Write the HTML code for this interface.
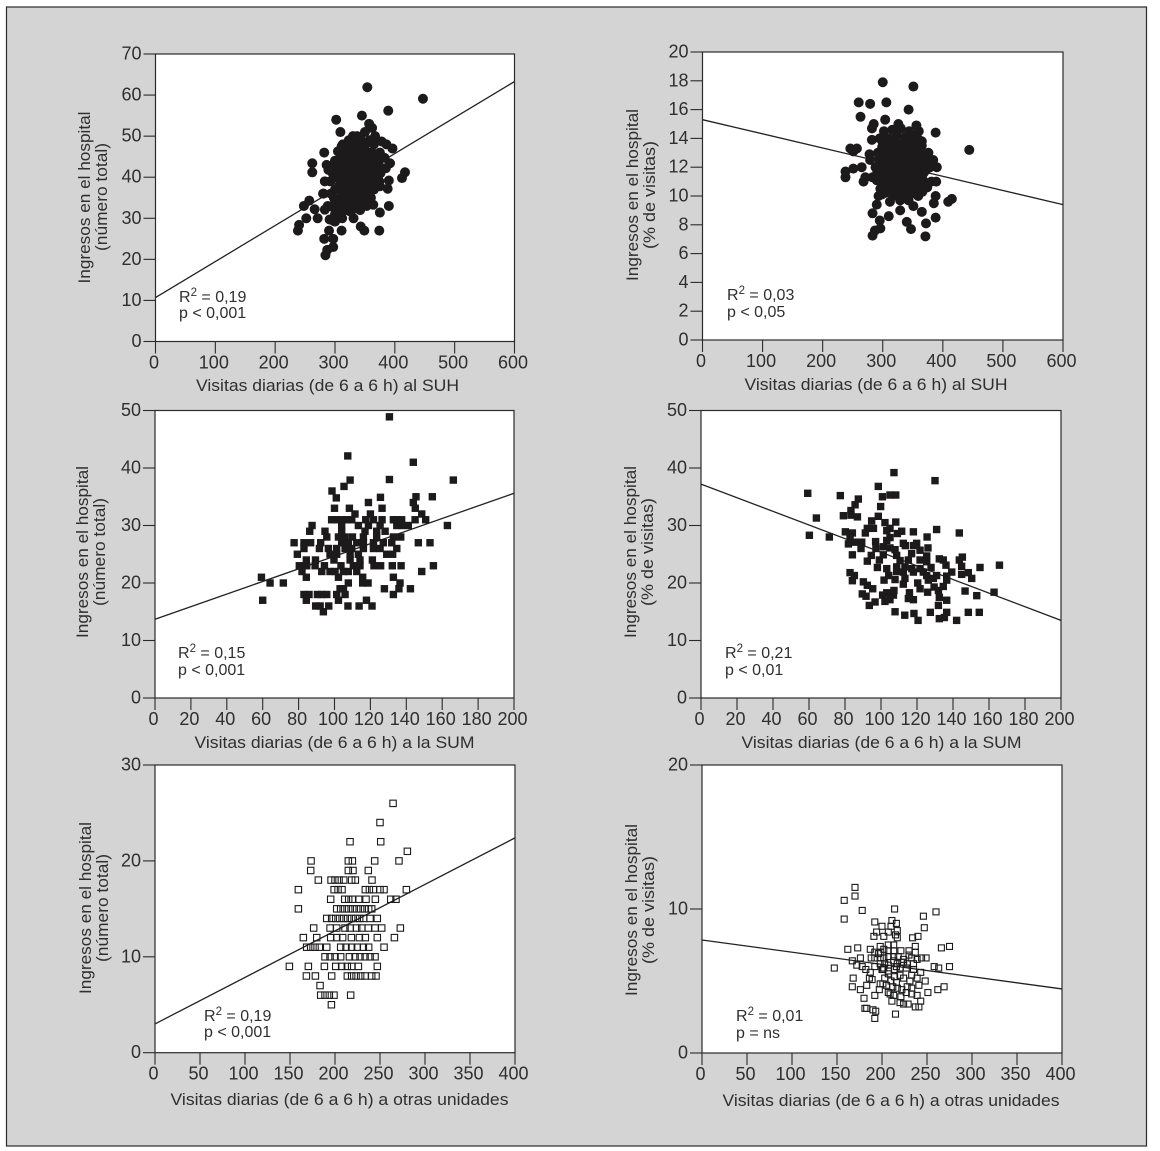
<!DOCTYPE html>
<html lang="es">
<head>
<meta charset="utf-8">
<title>Ingresos en el hospital y visitas diarias</title>
<style>
html,body{margin:0;padding:0;background:#fff;width:1160px;height:1151px;overflow:hidden}
svg{display:block;font-family:"Liberation Sans",sans-serif}
text{fill:#2f2f2f}
.tick-label{font-size:18px}
.axis-title{font-size:16.5px}
.note{font-size:16px}
.note-sup{font-size:11.5px}
</style>
</head>
<body>
<svg id="figure" xmlns="http://www.w3.org/2000/svg" width="1160" height="1151" viewBox="0 0 1160 1151">
<rect x="6.5" y="7" width="1140" height="1139" fill="#d4d4d4" stroke="#2a2a2a" stroke-width="1.2"/>

<g id="panel-a"></g>
<g id="panel-b"></g>
<g id="panel-c"></g>
<g id="panel-d"></g>
<g id="panel-e"></g>
<g id="panel-f"></g>

<g>
<text class="axis-title" x="327.5" y="391" text-anchor="middle" textLength="263" lengthAdjust="spacingAndGlyphs">Visitas diarias (de 6 a 6 h) al SUH</text>
<text class="axis-title" x="876" y="390" text-anchor="middle" textLength="263" lengthAdjust="spacingAndGlyphs">Visitas diarias (de 6 a 6 h) al SUH</text>
<text class="axis-title" x="334.5" y="748" text-anchor="middle" textLength="280" lengthAdjust="spacingAndGlyphs">Visitas diarias (de 6 a 6 h) a la SUM</text>
<text class="axis-title" x="881.5" y="748" text-anchor="middle" textLength="280" lengthAdjust="spacingAndGlyphs">Visitas diarias (de 6 a 6 h) a la SUM</text>
<text class="axis-title" x="339.5" y="1105" text-anchor="middle" textLength="338" lengthAdjust="spacingAndGlyphs">Visitas diarias (de 6 a 6 h) a otras unidades</text>
<text class="axis-title" x="891" y="1106" text-anchor="middle" textLength="337" lengthAdjust="spacingAndGlyphs">Visitas diarias (de 6 a 6 h) a otras unidades</text>

<text class="axis-title" transform="translate(90 197.5) rotate(-90)" text-anchor="middle" textLength="172" lengthAdjust="spacingAndGlyphs">Ingresos en el hospital</text>
<text class="axis-title" transform="translate(107 197) rotate(-90)" text-anchor="middle" textLength="108" lengthAdjust="spacingAndGlyphs">(número total)</text>
<text class="axis-title" transform="translate(638 195) rotate(-90)" text-anchor="middle" textLength="172" lengthAdjust="spacingAndGlyphs">Ingresos en el hospital</text>
<text class="axis-title" transform="translate(655 195) rotate(-90)" text-anchor="middle" textLength="108" lengthAdjust="spacingAndGlyphs">(% de visitas)</text>
<text class="axis-title" transform="translate(88 552) rotate(-90)" text-anchor="middle" textLength="172" lengthAdjust="spacingAndGlyphs">Ingresos en el hospital</text>
<text class="axis-title" transform="translate(105 552) rotate(-90)" text-anchor="middle" textLength="108" lengthAdjust="spacingAndGlyphs">(número total)</text>
<text class="axis-title" transform="translate(636 552) rotate(-90)" text-anchor="middle" textLength="172" lengthAdjust="spacingAndGlyphs">Ingresos en el hospital</text>
<text class="axis-title" transform="translate(653 552) rotate(-90)" text-anchor="middle" textLength="108" lengthAdjust="spacingAndGlyphs">(% de visitas)</text>
<text class="axis-title" transform="translate(91 908) rotate(-90)" text-anchor="middle" textLength="172" lengthAdjust="spacingAndGlyphs">Ingresos en el hospital</text>
<text class="axis-title" transform="translate(108 908) rotate(-90)" text-anchor="middle" textLength="108" lengthAdjust="spacingAndGlyphs">(número total)</text>
<text class="axis-title" transform="translate(637 910) rotate(-90)" text-anchor="middle" textLength="172" lengthAdjust="spacingAndGlyphs">Ingresos en el hospital</text>
<text class="axis-title" transform="translate(654 910) rotate(-90)" text-anchor="middle" textLength="108" lengthAdjust="spacingAndGlyphs">(% de visitas)</text>
</g>

<g>
<text class="note" x="179" y="302">R<tspan class="note-sup" dy="-6">2</tspan><tspan dy="6"> = 0,19</tspan></text>
<text class="note" x="179" y="318">p &lt; 0,001</text>
<text class="note" x="727" y="300">R<tspan class="note-sup" dy="-6">2</tspan><tspan dy="6"> = 0,03</tspan></text>
<text class="note" x="727" y="317">p &lt; 0,05</text>
<text class="note" x="178" y="658">R<tspan class="note-sup" dy="-6">2</tspan><tspan dy="6"> = 0,15</tspan></text>
<text class="note" x="178" y="675">p &lt; 0,001</text>
<text class="note" x="725" y="658">R<tspan class="note-sup" dy="-6">2</tspan><tspan dy="6"> = 0,21</tspan></text>
<text class="note" x="725" y="675">p &lt; 0,01</text>
<text class="note" x="204" y="1021">R<tspan class="note-sup" dy="-6">2</tspan><tspan dy="6"> = 0,19</tspan></text>
<text class="note" x="204" y="1037">p &lt; 0,001</text>
<text class="note" x="736" y="1021">R<tspan class="note-sup" dy="-6">2</tspan><tspan dy="6"> = 0,01</tspan></text>
<text class="note" x="736" y="1038">p = ns</text>
</g>
</svg>

<script>
// ---- Tick labels ----
const suhXTicks = [0,100,200,300,400,500,600];
const sumXTicks = [0,20,40,60,80,100,120,140,160,180,200];
const otrasXTicks = [0,50,100,150,200,250,300,350,400];
const suhTotalYTicks = [0,10,20,30,40,50,60,70];
const suhPercentYTicks = [0,2,4,6,8,10,12,14,16,18,20];
const sumYTicks = [0,10,20,30,40,50];
const otrasTotalYTicks = [0,10,20,30];
const otrasPercentYTicks = [0,10,20];

// ---- Regression lines: y value at the x-axis minimum and maximum ----
const suhTotalLine = [10.7,63.3];
const suhPercentLine = [15.3,9.4];
const sumTotalLine = [13.7,35.6];
const sumPercentLine = [37.2,13.5];
const otrasTotalLine = [3.0,22.4];
const otrasPercentLine = [7.85,4.45];

// ---- Panel A: SUH visits vs admissions (total) ----
const suhTotalX = [354,447,389,302,345,357,309,362,350,282,262,262,417,412,396,392,390,388,390,374,375,311,349,343,331,312,297,290,282,297,297,287,284,238,240,252,248,257,266,271,281,
286,298,289,283,280,311,305,330,322,367,378,386,375,383,385,374,375,361,353,350,364,336,325,294,283,302,291,300,
300,307,314,321,328,335,342,349,356,363,370,303,310,317,324,331,338,345,352,359,366,373,300,307,314,321,328,335,342,349,356,298,305,312,319,326,333,340,347,316,323,330,337,344,351,358,365,292,296,293,288,300,310,320,326,333,340,347,354,361,318,312,
313,320,327,334,341,348,355,362,369,376,305,312,319,326,333,340,347,354,361,368,302,309,316,323,330,337,344,351,358,365,304,311,318,325,332,339,346,353,360,307,314,321,328,335,342];
const suhTotalY = [61.9,59.1,56.2,54,55,53,51,52,51,46,43.4,41.2,41.2,39.8,47,43.4,39.2,37.2,33,27,31.4,27,27,28,30,30,29.4,27,25,25,23,22.3,21,27,28.4,30,33,34.3,32.2,30,36,
43,43,41.8,39,36,47.5,46.3,50,48,50,48.7,48,46,44.7,42.2,39,37.8,37.1,35.3,33.3,33.3,32.5,31.7,32.9,32.1,32.5,29.7,29.2,
44,42,45,43,46,44,47,45,46,44,45,40,41,39,41,42,40,42,41,42,41,43,37,38,36,38,37,39,37,39,38,35,34,33,35,34,36,34,36,47,49,48,50,49,48,49,48,39,41,36,33,31,31,32,44,41,45,43,43,40,42,38,
48,46,47,49,46,48,44,46,43,41,44,43,44,42,43,43,41,40,38,39,42,39,41,40,39,38,39,37,36,37,37,35,37,36,35,36,34,33,35,33,34,33,32,33,32];

// ---- Panel B: SUH visits vs admissions (%) ----
const suhPercentX = [300,351,260,279,306,343,263,388,444,246,257,251,238,238,251,265,415,409,388,385,388,372,371,347,340,310,295,296,287,283,283,290,293,298,285,304,326,356,360,282,365,376,384,390,389,282,278,279,271,268,329,312,329,351,365,343,
295,302,309,316,323,330,337,344,351,358,365,292,299,306,313,320,327,334,341,348,355,362,369,288,295,302,309,316,323,330,337,344,351,358,365,372,379,283,290,297,304,311,318,325,332,339,346,353,360,367,374,381,296,303,310,317,324,331,338,345,352,359,366,
300,307,314,321,328,335,342,349,356,363,294,301,308,315,322,329,336,343,350,357,364,371,291,298,305,312,319,326,333,340,347,354,361,368,300,307,314,321,328,335,342,349,356];
const suhPercentY = [17.9,17.6,16.5,16.4,16.5,16,15.5,14.4,13.2,13.3,13.3,13.1,11.7,11.3,11.9,12,9.8,9.6,10,9.5,8.5,8.1,7.2,7.7,8.2,8.6,8.3,7.75,7.6,7.25,8.8,9.4,10,10.1,15,15.3,15,14.9,14.5,14.7,13.5,13,12.5,12,11,13.9,12.9,12.5,11.3,11,9.7,9.6,9,9.3,8.9,9.7,
14,14.5,14,14.6,14.2,14.7,14.1,14.5,14.2,14,13.8,13,13.4,13,13.5,13.1,13.6,13,13.4,13,13.3,12.9,12.7,12,12.3,11.9,12.4,12,12.5,12,12.4,11.9,12.3,11.9,12.2,11.8,12,11.3,11.1,11.4,11,11.3,10.9,11.2,11,11.3,10.9,11.2,10.8,11.1,10.6,11,10.5,10.2,10.5,10,10.4,10.1,10.5,10.1,10.4,10,10.3,
13.7,13.8,13.3,13.8,13.3,13.7,13.8,13.6,13.6,13.4,12.7,12.7,12.7,12.8,12.4,12.8,12.7,12.7,12.6,12.6,12.5,12.3,11.7,11.7,11.7,11.7,11.5,11.7,11.6,11.7,11.6,11.6,11.5,11.6,10.8,10.7,10.7,10.7,10.6,10.7,10.7,10.7,10.6];

// ---- Panel C: SUM visits vs admissions (total) ----
const sumTotalX = [130.6,107.4,143.9,108.7,130.6,166.2,105.3,98.6,101,125.6,145.4,154.5,118.9,143.9,100,108.3,126.5,145,111.4,120,148.6,
98.4,101.2,104,106.8,109.6,117.4,121.7,126.5,132.8,134.7,137.4,144.9,150.8,
87.5,104,113.3,118.9,125.4,134.7,137.4,141.1,162.9,
86.2,94.7,104,117,123.5,128.2,
95.7,102.2,105.9,110,116.1,123.5,132.8,136.9,
77.5,83,86.7,92.3,104,107.7,112.4,116.1,121.7,127.2,131.9,146.7,153.2,
83,91.6,96.6,101.2,105.9,109.6,116.1,121.7,125.4,134.7,
79.3,97.5,101.2,108.7,113.3,129.1,132.4,
84.3,89.4,99.7,108.7,114.2,121.1,
80.4,84.5,89.2,94.4,103.6,110.5,114.2,122,125.7,132.2,137.1,155.1,
81.9,92.9,97.5,100.3,105,107.7,112.4,148.6,
59.3,84.3,102.2,115.7,132.8,
64.1,71.5,107.7,115.7,118.7,136.5,
105,103.1,127.8,135.9,142.3,
83,85.8,90.5,92.9,95.7,101.2,105.9,132.8,
60,84.3,102.2,117.8,
89.5,92,96.8,107.5,113.7,120.9,
93.8];
const sumTotalY = [48.9,42.1,41,37.9,38,37.9,36.8,36,34.8,34.9,35,35,34,34,33,33,33,33,32,32,32,
31,31,31,31,31,31,31,31,31,31,31,31,31,
30,30,30,30,30,30,30,30,30,
29,29,29,29,29,29,
28,28,28,28,28,28,28,28,
27,27,27,27,27,27,27,27,27,27,27,27,27,
26,26,26,26,26,26,26,26,26,26,
25,25,25,25,25,25,25,
24,24,24,24,24,24,
23,23,23,23,23,23,23,23,23,23,23,23,
22,22,22,22,22,22,22,22,
21,21,21,21,21,
20,20,20,20,20,20,
19,19,19,19,19,
18,18,18,18,18,18,18,18,
17,17,17,17,
16,16,16,16,16,16,
15];

// ---- Panel D: SUM visits vs admissions (%) ----
const sumPercentX = [107.2,130,98.5,59.3,77.4,100.8,105,108.2,87.4,85.6,99.8,83.3,83.3,79.1,86.9,64.1,98.5,94.8,102.2,108.2,92.4,95.8,91.3,105,103.2,111.5,109.1,118,130.9,143.5,125.6,60.2,71.3,80.2,84.1,82.8,81.9,85.6,89.3,88.9,97,103.2,105,112.4,113.5,119.8,118,126.1,97.2,101.3,105,107.8,121.7,117,84.1,94.6,101.3,108.7,125.4,145.2,132.4,143.5,92.4,99.1,110.6,115.2,121.7,134.6,125.4,136.1,144.8,165.8,155,98,103.2,108.7,113.3,117.1,121.7,127.8,108.7,112.4,118,123.5,139.3,144.8,148.5,82.8,85.2,104.3,125.4,130.9,136.5,101.7,107.8,113.3,129.1,150.4,84.1,90.2,112.4,120.4,126.3,136.5,92.4,95.4,107.2,121.7,129.5,134.6,125.9,131.9,146.7,162.8,89.6,91.7,100.9,103.2,106.9,115.8,153.2,105,102.2,115.2,118,132.4,136.5,96.7,93.5,131.9,107.8,113.2,118.3,120.6,127.4,136.5,132.4,135.2,142,148.5,154.6];
const sumPercentY = [39.2,37.8,36.8,35.6,35.2,35,35.3,35.3,34.6,33.6,33.3,32.6,31.8,31.7,31.5,31.3,31.6,30.8,30.5,30.6,29.5,29.5,28.7,29.5,29.1,29,28.6,28.9,29.3,28.7,28,28.3,28,28.9,28.7,27.7,26.8,27.1,27.1,26,27.2,27.4,27.9,26.9,26.5,26.9,26.5,26.1,26,26.3,26.1,25.8,25.7,25.1,24.9,24.8,24.9,24.8,24.7,24.5,24.2,24,23.8,24,23.9,24,24,24,23.7,23.1,22.9,23.1,22.7,22.7,22.5,22.8,22.8,22.5,22.5,22.7,22,21.9,21.9,21.9,21.9,21.5,21.8,21.8,21.3,21.3,21.3,21.3,21.2,20.5,20.6,20.8,20.8,20.8,20.4,20.2,19.8,20,20.5,20.5,19.6,19,18.7,19,19.3,19.4,18.4,18.7,18.6,18.4,18.1,17.7,17.9,18.3,17.9,18.3,17.8,17.1,16.8,17.3,17.1,17.5,17,16.7,16.1,16.1,15,14.4,14.7,13.5,14.9,14.9,13.8,14,13.5,14.9,14.9];

// ---- Panel E: other-unit visits vs admissions (total) ----
const otrasTotalX = [264.5,250,216.7,250.8,280.4,
173.4,214.8,219.3,244.1,271.1,
173,214.8,220,237,
181.5,195.6,200,204.5,209.7,218.5,222.6,241.1,
159.3,199,203.4,207.8,233.7,238.2,242.6,250,254.5,279.3,
195.2,210.8,215.2,219.7,226.3,234.5,244.8,261.9,267.8,
159.3,201.9,206.3,210.8,215.2,219.7,224.1,228.5,233,237.4,240.8,
190.8,196.3,200.8,205.2,209.7,214.1,218.5,223,227.4,231.9,238.9,247,
176.3,194.5,201.9,211.1,216.7,224.1,229.7,237,244.5,251.9,272.6,
164.8,179.7,195.2,201.9,208.5,218.2,227.1,233.7,247,266,
168.5,173,177.8,182.6,190.8,206.3,212.2,218.5,224.8,231.5,237.4,254.5,
188.9,194.5,200,206.3,216,222.3,227.8,233.4,239,244.5,
149.3,170.4,188.2,200.8,207.4,213.7,218.5,226,247,
168.2,178.2,196.3,213.7,218.5,223.4,228.5,233.4,240.8,245.6,
183.4,
184.1,188.9,193.7,198.9,217.4,
196];
const otrasTotalY = [26,24,22,22,21,
20,20,20,20,20,
19,19,19,19,
18,18,18,18,18,18,18,18,
17,17,17,17,17,17,17,17,17,17,
16,16,16,16,16,16,16,16,16,
15,15,15,15,15,15,15,15,15,15,15,
14,14,14,14,14,14,14,14,14,14,14,14,
13,13,13,13,13,13,13,13,13,13,13,
12,12,12,12,12,12,12,12,12,12,
11,11,11,11,11,11,11,11,11,11,11,11,
10,10,10,10,10,10,10,10,10,10,
9,9,9,9,9,9,9,9,9,
8,8,8,8,8,8,8,8,8,8,
7,
6,6,6,6,6,
5];

// ---- Panel F: other-unit visits vs admissions (%) ----
const otrasPercentX = [170,170,158,178,214,158,246,260,192,211,216,200,210,247,194,217,202,207,191,215,217,240,234,162,173,187,198,207,237,266,275,221,230,237,213,207,213,192,198,202,196,176,167,172,178,182,187,147,188,192,198,202,207,213,218,224,230,235,239,244,249,258,263,275,192,198,203,207,213,217,222,228,235,243,201,207,214,220,227,168,186,189,198,203,210,214,220,224,231,233,239,248,167,183,176,197,201,205,216,212,217,222,228,233,241,262,269,251,192,180,207,213,221,227,233,239,243,211,220,224,229,237,241,181,183,190,193,192,215,209,200,202,233,224,216,207];
const otrasPercentY = [11.5,10.9,10.6,9.9,10,9.3,9.5,9.8,9.1,9.2,9,8.8,8.8,8.7,8.4,8.5,8.1,8.4,8.1,8.2,8,8.1,8,7.2,7.3,7.2,7.4,7.5,7.4,7.3,7.4,7.1,7.1,7,7.5,7.1,7.1,7,7,7.2,6.9,6.6,6.4,6.1,6,5.8,5.6,5.9,6.6,6.6,6.6,6.6,6.7,6.7,6.7,6.5,6.8,6.2,6.5,6.6,6.6,6,5.9,6,6,6.2,6.2,6.1,6.4,6.2,6.3,6.2,5.8,5.6,5.8,5.7,5.8,5.9,5.9,5.2,5.2,5.1,4.8,5.2,5,5.3,5.4,5.2,5,5.4,5.2,5,4.6,4.7,4.4,4.4,4.8,4.7,4.9,4.6,4.5,4.4,4.6,4.5,4.7,4.4,4.6,4.2,4,3.8,4.2,4,3.9,4.2,4.1,4,3.6,3.6,3.5,3.4,3.4,3.2,3.2,3.1,3.1,3,2.9,2.4,2.7,4.1,5.8,5.9,6.6,6.3,6,5.5];

// ---- Renderer ----
const NS = 'http://www.w3.org/2000/svg';
function make(tag, parent){
  const el = document.createElementNS(NS, tag);
  parent.appendChild(el);
  return el;
}
function scaleLinear(d0, d1, r0, r1){
  return function(v){ return r0 + (v - d0) * (r1 - r0) / (d1 - d0); };
}
function drawPanel(id, box, xTicks, yTicks, xs, ys, line, marker){
  const g = document.getElementById(id);
  const xMin = xTicks[0], xMax = xTicks[xTicks.length-1];
  const yMin = yTicks[0], yMax = yTicks[yTicks.length-1];
  const sx = scaleLinear(xMin, xMax, box.l, box.r);
  const sy = scaleLinear(yMin, yMax, box.b, box.t);

  const plot = make('rect', g);
  
  
  plot.setAttribute('x', box.l);
  plot.setAttribute('y', box.t);
  plot.setAttribute('width', box.r - box.l);
  plot.setAttribute('height', box.b - box.t);
  plot.setAttribute('fill', '#fff');
  plot.setAttribute('stroke', '#2a2a2a');
  plot.setAttribute('stroke-width', '1.2');

  yTicks.forEach(function(v){
    const t = make('line', g);
    
    
    t.setAttribute('x1', box.l - 12);
    t.setAttribute('x2', box.l);
    t.setAttribute('y1', sy(v));
    t.setAttribute('y2', sy(v));
    t.setAttribute('stroke', '#2a2a2a');
    t.setAttribute('stroke-width', '1.1');
    const lab = make('text', g);
    
    
    lab.setAttribute('class', 'tick-label');
    lab.setAttribute('x', box.l - 14);
    lab.setAttribute('y', sy(v) + 5.5);
    lab.setAttribute('text-anchor', 'end');
    lab.textContent = v;
  });
  xTicks.forEach(function(v){
    const t = make('line', g);
    
    
    t.setAttribute('x1', sx(v));
    t.setAttribute('x2', sx(v));
    t.setAttribute('y1', box.b);
    t.setAttribute('y2', box.b + 12);
    t.setAttribute('stroke', '#2a2a2a');
    t.setAttribute('stroke-width', '1.1');
    const lab = make('text', g);
    
    
    lab.setAttribute('class', 'tick-label');
    lab.setAttribute('x', sx(v) - 1.5);
    lab.setAttribute('y', box.b + 27);
    lab.setAttribute('text-anchor', 'middle');
    lab.textContent = v;
  });

  const reg = make('line', g);
  
  
  reg.setAttribute('x1', sx(xMin));
  reg.setAttribute('x2', sx(xMax));
  reg.setAttribute('y1', sy(line[0]));
  reg.setAttribute('y2', sy(line[1]));
  reg.setAttribute('stroke', '#222');
  reg.setAttribute('stroke-width', '1.3');

  xs.forEach(function(xv, i){
    const px = sx(xv), py = sy(ys[i]);
    let m;
    if (marker.type === 'circle'){
      m = make('circle', g);
      m.setAttribute('cx', px);
      m.setAttribute('cy', py);
      m.setAttribute('r', marker.size / 2);
      m.setAttribute('fill', '#1c1a1b');
    } else {
      m = make('rect', g);
      m.setAttribute('x', px - marker.size / 2);
      m.setAttribute('y', py - marker.size / 2);
      m.setAttribute('width', marker.size);
      m.setAttribute('height', marker.size);
      if (marker.type === 'square'){
        m.setAttribute('fill', '#1c1a1b');
      } else {
        m.setAttribute('fill', 'none');
        m.setAttribute('stroke', '#1c1a1b');
        m.setAttribute('stroke-width', '1.1');
      }
    }
    
    
  });
}

drawPanel('panel-a', {l:155.5,r:514.5,t:54,b:341.5}, suhXTicks, suhTotalYTicks, suhTotalX, suhTotalY, suhTotalLine, {type:'circle',size:10});
drawPanel('panel-b', {l:702.5,r:1063,t:52,b:340}, suhXTicks, suhPercentYTicks, suhPercentX, suhPercentY, suhPercentLine, {type:'circle',size:10});
drawPanel('panel-c', {l:155,r:514,t:410.5,b:698}, sumXTicks, sumYTicks, sumTotalX, sumTotalY, sumTotalLine, {type:'square',size:7.4});
drawPanel('panel-d', {l:701,r:1061,t:410.5,b:698}, sumXTicks, sumYTicks, sumPercentX, sumPercentY, sumPercentLine, {type:'square',size:7.4});
drawPanel('panel-e', {l:155,r:515,t:765,b:1052.7}, otrasXTicks, otrasTotalYTicks, otrasTotalX, otrasTotalY, otrasTotalLine, {type:'open',size:6.4});
drawPanel('panel-f', {l:702,r:1062,t:765,b:1053}, otrasXTicks, otrasPercentYTicks, otrasPercentX, otrasPercentY, otrasPercentLine, {type:'open',size:6});
</script>
</body>
</html>
